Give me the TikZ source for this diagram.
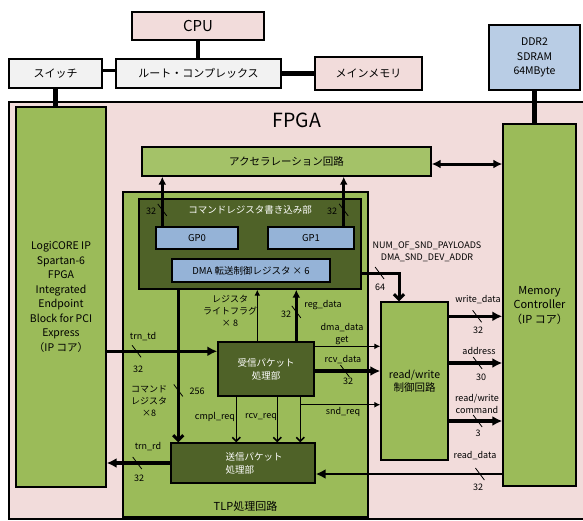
\documentclass[tikz,border=0pt]{standalone}
\usepackage{fontspec}
\setmainfont{Noto Sans CJK JP}
\usepackage{xcolor}
\definecolor{fpgapink}{HTML}{F2DCDB}
\definecolor{hostgray}{HTML}{F2F2F2}
\definecolor{ipgreen}{HTML}{9BBB59}
\definecolor{accgreen}{HTML}{A4C268}
\definecolor{darkgreen}{HTML}{4F6228}
\definecolor{regblue}{HTML}{95B3D7}
\definecolor{ddrblue}{HTML}{B9CDE5}
\usepackage{tikz}
\usetikzlibrary{arrows.meta, positioning, calc}

\tikzset{
  blk/.style={draw=black, line width=1.4pt, inner sep=0pt, align=center},
  lbl/.style={font=\fontsize{9}{12}\selectfont, inner sep=0pt, align=center},
  link/.style={line width=4.5pt},
  bus/.style={line width=3.2pt, -{Latex[length=10pt,width=10pt]}},
  busdn/.style={line width=3pt, -{Straight Barb[length=5pt,width=10pt]}},
  sig/.style={line width=1.2pt, -{Latex[length=6pt,width=6pt]}},
  req/.style={line width=1.5pt, -{Straight Barb[length=4pt,width=8pt]}},
  buscut/.pic={\draw[line width=0.8pt, -] (-4.5,-6) -- (4.5,6);},
}

\begin{document}
\begin{tikzpicture}[x=1pt, y=-1pt]
  \useasboundingbox (0,0) rectangle (583,520);

  % FPGA (right edge runs off the page)
  \node[blk, fill=fpgapink, minimum width=580pt, minimum height=417pt] (fpga) at (299,310.5) {};
  \node[font=\fontsize{19.5}{22}\selectfont] at (297,120) {FPGA};

  % host side
  \node[blk, fill=fpgapink, minimum width=132pt, minimum height=28pt, font=\fontsize{15}{17}\selectfont] (cpu) at (198,26) {CPU};
  \node[blk, fill=hostgray, minimum width=93pt, minimum height=29pt, font=\fontsize{11}{13}\selectfont] (sw) at (55.5,73.5) {スイッチ};
  \node[blk, fill=hostgray, minimum width=165pt, minimum height=29pt, font=\fontsize{11}{13}\selectfont] (root) at (198.5,73.5) {ルート・コンプレックス};
  \node[blk, fill=fpgapink, minimum width=107pt, minimum height=33pt, font=\fontsize{11}{13}\selectfont] (mem) at (368.5,73.5) {メインメモリ};
  \node[blk, fill=ddrblue, minimum width=91pt, minimum height=65pt, font=\fontsize{10.5}{14.5}\selectfont] (ddr) at (534.5,57.5) {DDR2\\SDRAM\\64MByte};

  % IP cores
  \node[blk, fill=ipgreen, minimum width=90pt, minimum height=380pt, font=\fontsize{10.5}{14.5}\selectfont] (logi) at (61,297)
    {LogiCORE IP\\Spartan-6\\FPGA\\Integrated\\Endpoint\\Block for PCI\\Express\\（IP コア）};
  \node[blk, fill=ipgreen, minimum width=73pt, minimum height=362pt, font=\fontsize{11}{14.5}\selectfont] (mc) at (539.5,305) {Memory\\Controller\\（IP コア）};
  \node[blk, fill=accgreen, minimum width=289pt, minimum height=29pt, font=\fontsize{10.5}{13}\selectfont] (accel) at (286.5,161.5) {アクセラレーション回路};

  % TLP processing
  \node[blk, fill=ipgreen, minimum width=245pt, minimum height=325pt] (tlp) at (245.5,354.5) {};
  \node[above=3pt of tlp.south, font=\fontsize{11}{13}\selectfont] {TLP処理回路};
  \node[blk, fill=darkgreen, minimum width=222pt, minimum height=90pt] (cmdw) at (250,244) {};
  \node[below=4pt of cmdw.north, text=white, font=\fontsize{9.5}{12}\selectfont] {コマンドレジスタ書き込み部};
  \node[blk, fill=regblue, minimum width=82pt, minimum height=22pt, font=\fontsize{9.5}{12}\selectfont] (gp0) at (197,238) {GP0};
  \node[blk, fill=regblue, minimum width=86pt, minimum height=22pt, font=\fontsize{9.5}{12}\selectfont] (gp1) at (311,238) {GP1};
  \node[blk, fill=regblue, minimum width=158pt, minimum height=23pt, font=\fontsize{9.5}{12}\selectfont] (dma) at (251,270.5) {DMA 転送制御レジスタ × 6};
  \node[blk, fill=darkgreen, text=white, minimum width=96pt, minimum height=54pt, font=\fontsize{9.5}{13}\selectfont] (rcv) at (266,369) {受信パケット\\処理部};
  \node[blk, fill=darkgreen, minimum width=144pt, minimum height=40pt,
    label={[xshift=11pt, text=white, align=left, font=\fontsize{9.5}{13}\selectfont]center:送信パケット\\処理部}] (snd) at (243,463) {};
  \node[blk, fill=ipgreen, minimum width=67pt, minimum height=158pt, font=\fontsize{10.5}{13}\selectfont] (rw) at (414.5,381) {read/write\\制御回路};

  % host links
  \draw[link] (cpu.south) -- (cpu.south |- root.north);
  \draw[line width=3pt] ([yshift=3pt]sw.east) -- ([yshift=3pt]root.west);
  \draw[link] (root.east) -- (root.east -| mem.west);
  \draw[link] (sw.south) -- (sw.south |- logi.north);
  \draw[link] (ddr.south) -- (ddr.south |- mc.north);

  % accel <-> memory controller
  \coordinate (accmc) at ([yshift=-2.5pt]accel.east);
  \draw[line width=3pt, {Latex[length=9pt,width=9pt]}-{Latex[length=9pt,width=9pt]}] (accmc) -- (accmc -| mc.west);

  % GP0 / GP1 -> accel
  \coordinate (gp0up) at ([xshift=7pt]gp0.north west);
  \coordinate (gp1up) at ([xshift=-11pt]gp1.north east);
  \draw[bus, -{Latex[length=8pt,width=8pt]}] (gp0up) -- (gp0up |- accel.south) pic[pos=.33]{buscut};
  \draw[bus, -{Latex[length=8pt,width=8pt]}] (gp1up) -- (gp1up |- accel.south) pic[pos=.33]{buscut};
  \node[lbl] at (151,211) {32};
  \node[lbl] at (332,211) {32};

  % DMA registers -> read/write
  \coordinate (dmay) at ([yshift=-2.5pt]dma.east);
  \coordinate (rwin) at ([xshift=-15.5pt]rw.north);
  \draw[busdn] (cmdw.east |- dmay) -| (rwin) pic[pos=.24]{buscut};
  \node[lbl] at (427,252) {NUM\_OF\_SND\_PAYLOADS\\DMA\_SND\_DEV\_ADDR};
  \node[lbl] at (380,287) {64};

  % command registers -> send
  \coordinate (cmddn) at ([xshift=8pt]snd.north west);
  \draw[busdn] (cmddn |- cmdw.south) -- (cmddn) pic[pos=.66]{buscut};
  \node[lbl] at (149,401) {コマンド\\レジスタ\\×8};
  \node[lbl] at (197,391) {256};

  % receive -> command register block
  \coordinate (flagup) at ([xshift=40pt]rcv.north west);
  \coordinate (regup) at ([xshift=79pt]rcv.north west);
  \draw[sig] (flagup) -- (flagup |- cmdw.south);
  \draw[bus, -{Latex[length=8pt,width=8pt]}] (regup) -- (regup |- cmdw.south) pic[pos=.57]{buscut};
  \node[lbl] at (230,311) {レジスタ\\ライトフラグ\\× 8};
  \node[lbl] at (286,314) {32};
  \node[lbl] at (323,305) {reg\_data};

  % PCIe core <-> TLP
  \coordinate (tdin) at ([yshift=-10pt]rcv.north west);
  \draw[bus] (logi.east |- tdin) -- (tdin) pic[pos=.27]{buscut};
  \draw[bus] (snd.west) -- (snd.west -| logi.east) pic[pos=.52]{buscut};
  \node[lbl] at (143,337) {trn\_td};
  \node[lbl] at (138,369) {32};
  \node[lbl] at (148,447) {trn\_rd};
  \node[lbl] at (139,478) {32};

  % receive -> send requests
  \coordinate (cmplreq) at ([xshift=19pt]rcv.south west);
  \coordinate (rcvreq) at ([xshift=60pt]rcv.south west);
  \coordinate (sndreq) at ([xshift=83pt]rcv.south west);
  \coordinate (sndreqy) at ([yshift=-8pt]rcv.south);
  \draw[req] (cmplreq) -- (cmplreq |- snd.north);
  \draw[req] (rcvreq) -- (rcvreq |- snd.north);
  \draw[req] (sndreq) -- (sndreq |- snd.north);
  \draw[sig] (sndreq |- sndreqy) -- (sndreqy -| rw.west);
  \node[lbl] at (215,417) {cmpl\_req};
  \node[lbl] at (261,417) {rcv\_req};
  \node[lbl] at (343,412) {snd\_req};

  % receive -> read/write
  \coordinate (getout) at ([yshift=-5pt]rcv.north east);
  \coordinate (rdout) at ([yshift=-2pt]rcv.east);
  \draw[sig] (getout) -- (getout -| rw.west);
  \draw[bus] (rdout) -- (rdout -| rw.west) pic[pos=.46]{buscut};
  \node[lbl] at (342,334) {dma\_data\\get};
  \node[lbl] at (343,360) {rcv\_data};
  \node[lbl] at (348,381) {32};

  % read/write <-> memory controller
  \coordinate (wd) at ([yshift=-15pt]rw.north east);
  \coordinate (ad) at ([yshift=18pt]rw.east);
  \coordinate (cm) at ([yshift=-40pt]rw.east);
  \coordinate (rdin) at ([yshift=-11pt]snd.east);
  \draw[bus] (wd) -- (wd -| mc.west) pic[pos=.53]{buscut};
  \draw[bus] (ad) -- (ad -| mc.west) pic[pos=.54]{buscut};
  \draw[bus] (cm) -- (cm -| mc.west) pic[pos=.54]{buscut};
  \draw[bus, line width=2.6pt] (rdin -| mc.west) -- (rdin) pic[pos=.12]{buscut};
  \node[lbl] at (478,300) {write\_data};
  \node[lbl] at (478,330) {32};
  \node[lbl] at (479,351) {address};
  \node[lbl] at (481,377) {30};
  \node[lbl] at (477,404) {read/write\\command};
  \node[lbl] at (478,433) {3};
  \node[lbl] at (475,456) {read\_data};
  \node[lbl] at (478,487) {32};
\end{tikzpicture}
\end{document}
